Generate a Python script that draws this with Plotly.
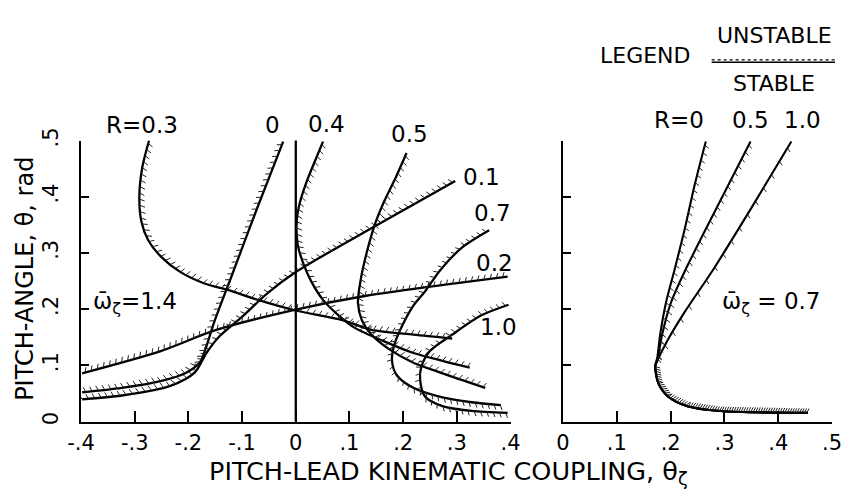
import numpy as np
import plotly.graph_objects as go

W, H = 847, 499

# ---------------- data: omega_zeta = 1.4 (left panel) ----------------
# boundary curves, (theta_zeta, theta) pairs for each R
r00_x = [-0.0235, -0.0706, -0.1195, -0.152, -0.1665, -0.179, -0.206, -0.252, -0.324, -0.398]
r00_y = [0.498, 0.383, 0.259, 0.177, 0.134, 0.105, 0.086, 0.072, 0.060, 0.052]

r01_x = [0.297, 0.1466, 0.0, -0.0525, -0.101, -0.143, -0.1665, -0.188, -0.2335, -0.324, -0.398]
r01_y = [0.428, 0.347, 0.266, 0.2285, 0.1856, 0.151, 0.122, 0.0876, 0.0636, 0.0464, 0.0395]

r02_x = [-0.398, -0.2516, -0.1484, 0.0, 0.1285, 0.2968, 0.3946]
r02_y = [0.0859, 0.1254, 0.163, 0.1993, 0.2234, 0.2457, 0.2577]

r03_x = [-0.2733, -0.286, -0.2914, -0.2878, -0.2751, -0.2516, -0.2154, -0.170, -0.1249,
         -0.0706, 0.0, 0.0869, 0.1412, 0.219, 0.2914]
r03_y = [0.500, 0.452, 0.400, 0.357, 0.323, 0.2938, 0.2663, 0.2457, 0.2337,
         0.2165, 0.1976, 0.1804, 0.1632, 0.1546, 0.1478]

r04_x = [0.0507, 0.0344, 0.0199, 0.0072, 0.0018, 0.0036, 0.0145, 0.029, 0.0507, 0.0796,
         0.110, 0.1647, 0.219, 0.2733, 0.324]
r04_y = [0.498, 0.4605, 0.426, 0.388, 0.357, 0.3144, 0.280, 0.249, 0.2165, 0.189,
         0.1667, 0.1426, 0.122, 0.1082, 0.0962]

r05_x = [0.2063, 0.1864, 0.1647, 0.1466, 0.1321, 0.1213, 0.1158, 0.1231, 0.1412, 0.1738,
         0.219, 0.2733, 0.3529]
r05_y = [0.4777, 0.4347, 0.3918, 0.3488, 0.3007, 0.2543, 0.2113, 0.1804, 0.1546, 0.1289,
         0.1048, 0.0859, 0.0601]

r07_x = [0.3602, 0.3095, 0.2679, 0.2425, 0.219, 0.1955, 0.1828, 0.1792, 0.1882, 0.219,
         0.2733, 0.3276, 0.3819]
r07_y = [0.3402, 0.3093, 0.268, 0.2337, 0.2062, 0.165, 0.134, 0.1082, 0.0825, 0.0601,
         0.043, 0.0344, 0.0292]

r10_x = [0.3964, 0.3457, 0.2914, 0.2498, 0.2335, 0.2317, 0.2407, 0.2733, 0.3276, 0.3946]
r10_y = [0.2079, 0.189, 0.1546, 0.1254, 0.0962, 0.0739, 0.0447, 0.0275, 0.0189, 0.0155]

# ---------------- data: omega_zeta = 0.7 (right panel) ----------------
low_x = [0.1715, 0.1769, 0.195, 0.231, 0.2924, 0.4549]
low_y = [0.0997, 0.0687, 0.0447, 0.0275, 0.0189, 0.0155]

s00_x = [0.2653, 0.2437, 0.2256, 0.2076, 0.1913, 0.1805, 0.1751]
s00_y = [0.4983, 0.4175, 0.3402, 0.2715, 0.2113, 0.1546, 0.1134]
s05_x = [0.3484, 0.287, 0.2274, 0.2004, 0.1841, 0.1751]
s05_y = [0.4983, 0.3832, 0.2698, 0.2113, 0.1546, 0.1082]
s10_x = [0.4242, 0.352, 0.2798, 0.2256, 0.1931, 0.1751]
s10_y = [0.4983, 0.3832, 0.2715, 0.1942, 0.1426, 0.1082]

# tick labels
left_ticks = [-0.4, -0.3, -0.2, -0.1, 0.0, 0.1, 0.2, 0.3, 0.4]
left_text = ["-.4", "-.3", "-.2", "-.1", "0", ".1", ".2", ".3", ".4"]
right_ticks = [0.0, 0.1, 0.2, 0.3, 0.4, 0.5]
right_text = ["0", ".1", ".2", ".3", ".4", ".5"]
y_ticks = [0.0, 0.1, 0.2, 0.3, 0.4, 0.5]
y_text = ["0", ".1", ".2", ".3", ".4", ".5"]

# ---------------- layout geometry ----------------
XL = [69 / W, 511 / W]
XR = [565 / W, 842 / W]
YD = [1 - 423 / H, 1 - 132 / H]
XL_RANGE = [-0.4, 0.4]
XR_RANGE = [0.0, 0.5]
Y_RANGE = [0.0, 0.5]


def scale(dom, rng, total):
    return (dom[1] - dom[0]) * total / (rng[1] - rng[0])


SX_L = scale(XL, XL_RANGE, W)
SX_R = scale(XR, XR_RANGE, W)
SY = scale(YD, Y_RANGE, H)


def hatch(xs, ys, sx, sy, side, step=6.5, length=5.0, slant=0.45):
    """Short tick marks along one side of a boundary (the unstable side)."""
    X = np.asarray(xs, float) * sx
    Y = np.asarray(ys, float) * sy
    seg = np.hypot(np.diff(X), np.diff(Y))
    s = np.concatenate([[0.0], np.cumsum(seg)])
    hx, hy = [], []
    for d in np.arange(step / 2, s[-1], step):
        i = int(min(np.searchsorted(s, d, side="right") - 1, len(seg) - 1))
        f = (d - s[i]) / seg[i]
        tx = (X[i + 1] - X[i]) / seg[i]
        ty = (Y[i + 1] - Y[i]) / seg[i]
        px = X[i] + f * (X[i + 1] - X[i])
        py = Y[i] + f * (Y[i + 1] - Y[i])
        nx, ny = -ty * side, tx * side
        ex = px + length * (nx + slant * tx)
        ey = py + length * (ny + slant * ty)
        hx += [px / sx, ex / sx, None]
        hy += [py / sy, ey / sy, None]
    return hx, hy


fig = go.Figure()

left_curves = [
    (r00_x, r00_y, -1), (r01_x, r01_y, -1), (r02_x, r02_y, 1), (r03_x, r03_y, 1),
    (r04_x, r04_y, 1), (r05_x, r05_y, 1), (r07_x, r07_y, -1), (r10_x, r10_y, -1),
]

hxl, hyl = [], []
for cx, cy, side in left_curves:
    fig.add_trace(go.Scatter(x=cx, y=cy, mode="lines", xaxis="x", yaxis="y",
                             line=dict(color="black", width=2.3, shape="spline", smoothing=0.8),
                             hoverinfo="skip", showlegend=False))
    a, b = hatch(cx, cy, SX_L, SY, side)
    hxl += a
    hyl += b
fig.add_trace(go.Scatter(x=hxl, y=hyl, mode="lines", xaxis="x", yaxis="y",
                         line=dict(color="#222", width=1.0), hoverinfo="skip", showlegend=False))

# theta_zeta = 0 reference line
fig.add_trace(go.Scatter(x=[0, 0], y=[0, 0.508], mode="lines", xaxis="x", yaxis="y",
                         line=dict(color="black", width=2.3), hoverinfo="skip", showlegend=False))

right_curves = [(s00_x, s00_y, 1), (s05_x, s05_y, 1), (s10_x, s10_y, 1)]
hxr, hyr = [], []
for k, (cx, cy, side) in enumerate(right_curves):
    fx = list(cx) + list(low_x)
    fy = list(cy) + list(low_y)
    fig.add_trace(go.Scatter(x=fx, y=fy, mode="lines", xaxis="x2", yaxis="y2",
                             line=dict(color="black", width=2.1, shape="spline", smoothing=0.8),
                             hoverinfo="skip", showlegend=False))
    a, b = hatch(cx, cy, SX_R, SY, side, step=8 if k < 2 else 16, length=4.5)
    hxr += a
    hyr += b
a, b = hatch(low_x, low_y, SX_R, SY, 1, step=2.5, length=4.5)
hxr += a
hyr += b
fig.add_trace(go.Scatter(x=hxr, y=hyr, mode="lines", xaxis="x2", yaxis="y2",
                         line=dict(color="#222", width=1.0), hoverinfo="skip", showlegend=False))

FONT = "DejaVu Sans"
axis_common = dict(showgrid=False, zeroline=False, showline=True, linecolor="black",
                   linewidth=2, ticks="inside", tickcolor="black", tickwidth=2,
                   tickfont=dict(family=FONT, size=21, color="black"))

fig.update_layout(
    width=W, height=H, margin=dict(l=0, r=0, t=0, b=0),
    paper_bgcolor="white", plot_bgcolor="white", showlegend=False,
    xaxis=dict(domain=XL, range=XL_RANGE, anchor="y", tickmode="array",
               tickvals=left_ticks, ticktext=left_text, ticklen=11,
               ticklabelstandoff=1, **axis_common),
    yaxis=dict(domain=YD, range=Y_RANGE, anchor="x", tickmode="array",
               tickvals=y_ticks, ticktext=y_text, ticklen=8, tickangle=-90,
               ticklabelstandoff=13, **axis_common),
    xaxis2=dict(domain=XR, range=XR_RANGE, anchor="y2", tickmode="array",
                tickvals=right_ticks, ticktext=right_text, ticklen=11,
                ticklabelstandoff=1, **axis_common),
    yaxis2=dict(domain=YD, range=Y_RANGE, anchor="x2", tickmode="array",
                tickvals=y_ticks, ticktext=y_text, ticklen=8, showticklabels=False,
                **axis_common),
)


def P(xp, yp):
    return xp / W, 1 - yp / H


def label(text, xp, yp, size=23, angle=0, xanchor="center"):
    x, y = P(xp, yp)
    fig.add_annotation(x=x, y=y, xref="paper", yref="paper", text=text, showarrow=False,
                       textangle=angle, xanchor=xanchor, yanchor="middle",
                       font=dict(family=FONT, size=size, color="black"))


# curve labels
label("R=0.3", 132, 116)
label("0", 266, 116)
label("0.4", 322, 115)
label("0.5", 407, 125)
label("0.1", 481, 170)
label("0.7", 492, 207)
label("0.2", 494, 259)
label("1.0", 499, 325)
label("ω\u0304<sub>ζ</sub>=1.4", 125, 300)

label("R=0", 684, 111)
label("0.5", 758, 111)
label("1.0", 812, 111)
label("ω\u0304<sub>ζ</sub> = 0.7", 780, 300)

# axis titles
label("PITCH-LEAD KINEMATIC COUPLING, θ<sub>ζ</sub>", 447, 476, size=25.5)
label("PITCH-ANGLE, θ, rad", 27, 275, size=24, angle=-90, xanchor="right")

# legend block
label("LEGEND", 650, 44, size=22)
label("UNSTABLE", 783, 23, size=22)
label("STABLE", 782, 73, size=22)
lx0, ly0 = P(718, 51)
lx1, _ = P(845, 51)
fig.add_shape(type="line", xref="paper", yref="paper", x0=lx0, x1=lx1, y0=ly0, y1=ly0,
              line=dict(color="black", width=1.5))
_, ly1 = P(0, 48.5)
fig.add_shape(type="line", xref="paper", yref="paper", x0=lx0, x1=lx1, y0=ly1, y1=ly1,
              line=dict(color="black", width=1.2, dash="dot"))

fig.write_html("out.html")
